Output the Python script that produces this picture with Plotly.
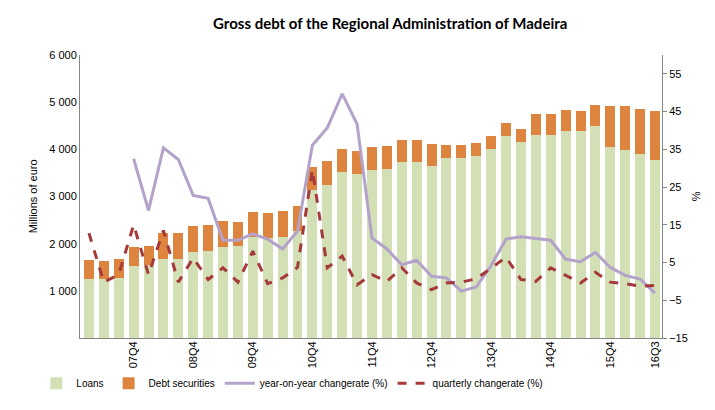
import plotly.graph_objects as go

quarters = [f"{y:02d}Q{q}" for y in range(7, 17) for q in range(1, 5)][:39]

loans = [1260, 1260, 1274, 1534, 1555, 1677, 1677, 1826, 1847, 1932,
         1953, 2144, 2123, 2144, 2272, 3140, 3248, 3524, 3482, 3567,
         3588, 3737, 3737, 3652, 3822, 3822, 3864, 4013, 4289, 4161,
         4310, 4310, 4395, 4395, 4501, 4055, 3992, 3907, 3779]
totals = [1663, 1635, 1677, 1932, 1953, 2229, 2229, 2378, 2392, 2484,
          2463, 2675, 2654, 2696, 2802, 3630, 3758, 4013, 3970, 4055,
          4076, 4204, 4204, 4119, 4098, 4098, 4140, 4289, 4565, 4438,
          4756, 4756, 4841, 4820, 4947, 4926, 4926, 4862, 4820]
debt_securities = [t - l for t, l in zip(totals, loans)]

yoy = [None, None, None, 32.5, 18.8, 35.4, 32.3, 22.8, 22.0, 10.9,
       10.9, 12.6, 11.2, 8.6, 13.3, 36.1, 40.7, 49.7, 41.7, 11.5,
       8.6, 4.4, 5.6, 1.35, 0.9, -2.6, -1.5, 4.2, 11.2, 11.8,
       11.3, 10.9, 5.9, 5.2, 7.7, 3.7, 1.6, 0.6, -3.1]
qoq = [12.8, -0.2, 1.8, 15.0, 1.8, 13.5, -0.2, 6.2, 0.5, 3.6,
       -0.2, 8.0, -0.6, 0.9, 3.7, 29.6, 3.6, 6.7, -0.9, 1.8,
       0.0, 3.6, -0.4, -2.2, -0.4, -0.2, 0.7, 3.6, 6.4, 0.5,
       0.0, 3.6, 1.6, -0.4, 2.4, -0.2, -0.6, -1.3, -1.1]

x_ticks = ["07Q4", "08Q4", "09Q4", "10Q4", "11Q4", "12Q4", "13Q4", "14Q4", "15Q4", "16Q3"]
left_ticks = [1000, 2000, 3000, 4000, 5000, 6000]
left_tick_text = ["1 000", "2 000", "3 000", "4 000", "5 000", "6 000"]
right_ticks = [-15, -5, 5, 15, 25, 35, 45, 55]

FONT = "'Liberation Sans', Arial, sans-serif"

fig = go.Figure()
fig.add_trace(go.Bar(x=quarters, y=loans, name="Loans",
                     marker=dict(color="#D3DFB5", line=dict(width=0))))
fig.add_trace(go.Bar(x=quarters, y=debt_securities, name="Debt securities",
                     marker=dict(color="#DD843F", line=dict(width=0))))
fig.add_trace(go.Scatter(x=quarters, y=yoy, name="year-on-year changerate (%)",
                         mode="lines", yaxis="y2",
                         line=dict(color="#B3A3CA", width=3)))
fig.add_trace(go.Scatter(x=quarters, y=qoq, name="quarterly changerate (%)",
                         mode="lines", yaxis="y2",
                         line=dict(color="#A63A3A", width=3, dash="dash")))

fig.update_layout(
    width=715, height=410,
    margin=dict(l=72, r=61, t=47, b=80),
    paper_bgcolor="white", plot_bgcolor="white",
    barmode="stack", bargap=0.33,
    font=dict(family=FONT, size=11, color="#000000"),
    title=dict(text="<b>Gross debt of the Regional Administration of Madeira</b>",
               x=0.533, xref="paper", xanchor="center", y=0.962, yanchor="middle",
               font=dict(family="Lato, 'Open Sans', sans-serif", size=15, color="#000000")),
    xaxis=dict(type="category", range=[-0.6, 38.47], tickvals=x_ticks, ticktext=x_ticks,
               tickangle=-90, showgrid=False, showline=True, linecolor="#868686",
               linewidth=1, ticks="", tickfont=dict(size=11), zeroline=False,
               ticklabelstandoff=-2),
    yaxis=dict(range=[0, 6000], tickvals=left_ticks, ticktext=left_tick_text,
               showgrid=False, showline=True, linecolor="#868686", linewidth=1,
               ticks="", zeroline=False, tickfont=dict(size=11)),
    yaxis2=dict(range=[-15, 60], tickvals=right_ticks, overlaying="y", side="right",
                showgrid=False, showline=True, linecolor="#868686", linewidth=1,
                ticks="outside", ticklen=4, tickcolor="#868686", zeroline=False,
                tickfont=dict(size=11)),
    legend=dict(orientation="h", x=-0.075, xanchor="left", y=-0.16, yanchor="middle",
                font=dict(size=10), traceorder="normal", itemwidth=30),
    showlegend=True,
    annotations=[
        dict(text="Millions of euro", xref="paper", yref="paper", x=-0.081, y=0.5,
             xanchor="center", yanchor="middle", textangle=-90, showarrow=False,
             font=dict(size=11)),
        dict(text="%", xref="paper", yref="paper", x=1.06, y=0.5,
             xanchor="center", yanchor="middle", textangle=90, showarrow=False,
             font=dict(size=11)),
    ],
)

fig.write_html("out.html")
